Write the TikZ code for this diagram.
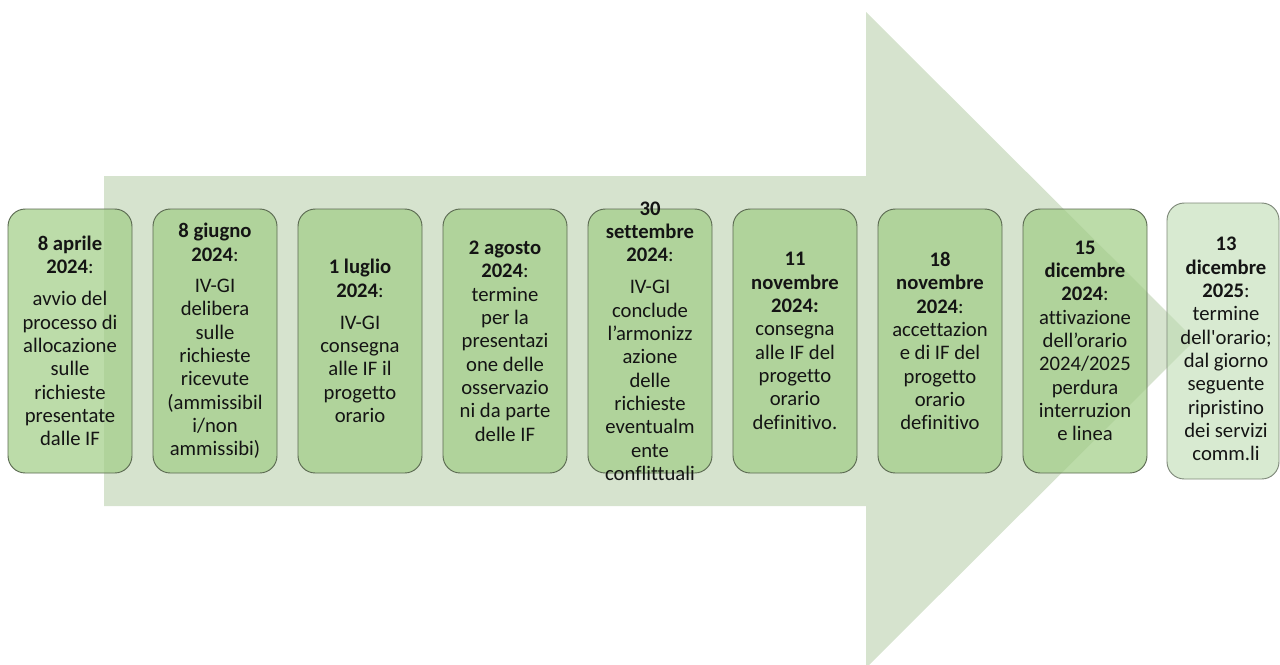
\documentclass[tikz,border=0pt]{standalone}
\usepackage{fontspec}
\setmainfont{Carlito}[Ligatures={NoCommon}]
\definecolor{arrowfill}{RGB}{214,227,206}
\definecolor{boxfill}{RGB}{162,206,136}
\definecolor{boxline}{RGB}{90,105,80}
\definecolor{lastline}{RGB}{125,135,120}
\definecolor{lastfill}{RGB}{190,220,178}
\definecolor{txt}{RGB}{20,20,20}
\begin{document}
\begin{tikzpicture}[x=0.75pt,y=-0.75pt,
  stage/.style={draw=boxline, line width=0.7pt, rounded corners=13pt, fill=boxfill, fill opacity=0.72,
    minimum width=93pt, minimum height=198pt, inner sep=0pt},
  laststage/.style={stage, draw=lastline, fill=lastfill, fill opacity=0.6, minimum width=84pt, minimum height=207pt},
  lbl/.style={align=center, font=\fontsize{15.5}{17.5}\selectfont, text=txt, inner sep=0pt}]
\useasboundingbox (0,0) rectangle (1280,664);
\clip (0,0) rectangle (1280,664);
% big background arrow
\fill[arrowfill] (104,176) -- (866,176) -- (866,12) -- (1195,340) -- (866,668) -- (866,506) -- (104,506) -- cycle;
% boxes
\node[stage] (b1) at (70,341) {};
\node[stage] (b2) at (215,341) {};
\node[stage] (b3) at (360,341) {};
\node[stage] (b4) at (505,341) {};
\node[stage] (b5) at (650,341) {};
\node[stage] (b6) at (795,341) {};
\node[stage] (b7) at (940,341) {};
\node[stage] (b8) at (1085,341) {};
\node[laststage] (b9) at (1223,341) {};
% texts
\node[lbl] (t1) at (b1.center) {\textbf{8 aprile}\\\textbf{2024}:\\[6.5pt]avvio del\\processo di\\allocazione\\sulle\\richieste\\presentate\\dalle IF};
\node[lbl] (t2) at (b2.center) {\textbf{8 giugno}\\\textbf{2024}:\\[6pt]IV-GI\\delibera\\sulle\\richieste\\ricevute\\(ammissibil\\i/non\\ammissibi)};
\node[lbl] (t3) at (b3.center) {\textbf{1 luglio}\\\textbf{2024}:\\[6.5pt]IV-GI\\consegna\\alle IF il\\progetto\\orario};
\node[lbl] (t4) at (b4.center) {\textbf{2 agosto}\\\textbf{2024}:\\termine\\per la\\presentazi\\one delle\\osservazio\\ni da parte\\delle IF};
\node[lbl] (t5) at (b5.center) {\textbf{30}\\\textbf{settembre}\\\textbf{2024}:\\[6.5pt]IV-GI\\conclude\\l’armonizz\\azione\\delle\\richieste\\eventualm\\ente\\conflittuali};
\node[lbl] (t6) at (b6.center) {\textbf{11}\\\textbf{novembre}\\\textbf{2024:}\\consegna\\alle IF del\\progetto\\orario\\definitivo.};
\node[lbl] (t7) at (b7.center) {\textbf{18}\\\textbf{novembre}\\\textbf{2024}:\\accettazion\\e di IF del\\progetto\\orario\\definitivo};
\node[lbl] (t8) at (b8.center) {\textbf{15}\\\textbf{dicembre}\\\textbf{2024}:\\attivazione\\dell’orario\\2024/2025\\perdura\\interruzion\\e linea};
\node[lbl] (t9) at (1226,349) {\textbf{13}\\\textbf{dicembre}\\\textbf{2025}:\\termine\\dell\textquotesingle orario;\\dal giorno\\seguente\\ripristino\\dei servizi\\comm.li};
\end{tikzpicture}
\end{document}
